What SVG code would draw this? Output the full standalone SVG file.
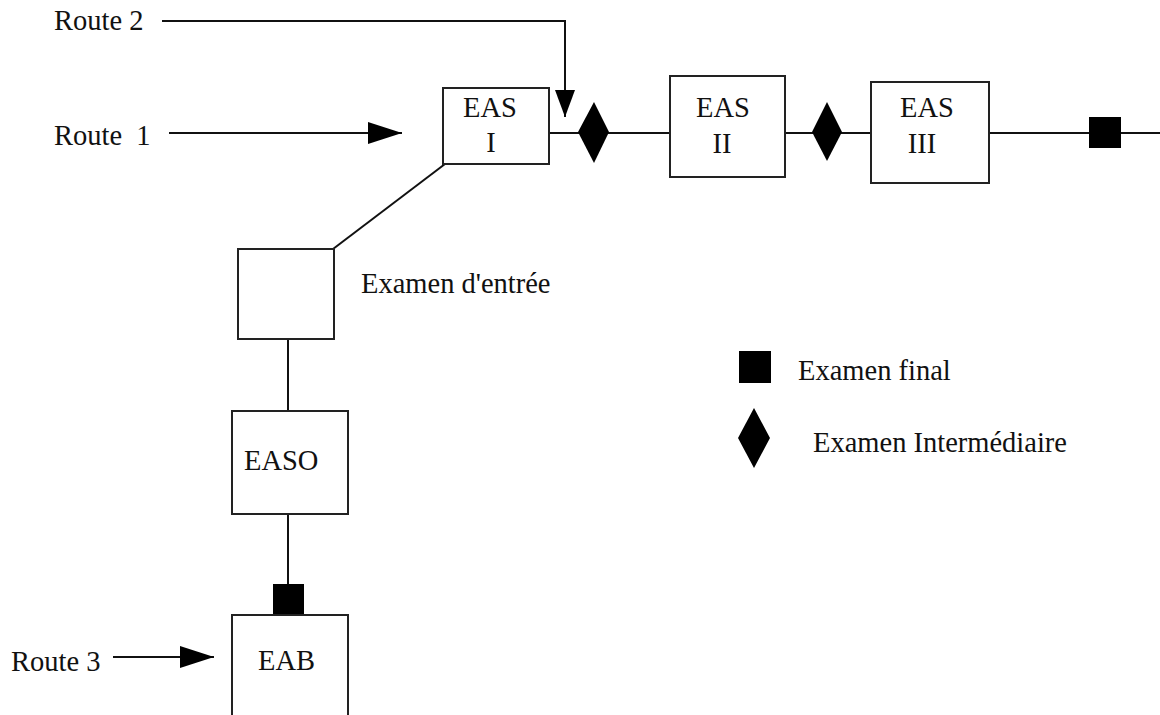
<svg xmlns="http://www.w3.org/2000/svg" width="1160" height="715" viewBox="0 0 1160 715">
<style>
text{font-family:"Liberation Serif","Times New Roman",serif;font-size:28.5px;fill:#111;white-space:pre}
.box{fill:#fff;stroke:#222;stroke-width:2}
.ln{stroke:#111;stroke-width:2;fill:none}
.mk{fill:#000}
</style>
<defs>
<marker id="arr" viewBox="0 0 34 22" refX="34" refY="11" markerWidth="34" markerHeight="22" markerUnits="userSpaceOnUse" orient="auto">
<path d="M0,0 L34,11 L0,22 Z" fill="#000"/>
</marker>
<marker id="arrv" viewBox="0 0 27 20" refX="27" refY="10" markerWidth="27" markerHeight="20" markerUnits="userSpaceOnUse" orient="auto">
<path d="M0,0 L27,10 L0,20 Z" fill="#000"/>
</marker>
</defs>
<rect width="1160" height="715" fill="#fff"/>
<g id="connectors">
<polyline class="ln" points="162,21 565,21 565,117" marker-end="url(#arrv)"/>
<line class="ln" x1="169" y1="133" x2="402" y2="133" marker-end="url(#arr)"/>
<line class="ln" x1="549" y1="133" x2="670" y2="133"/>
<line class="ln" x1="785" y1="133" x2="871" y2="133"/>
<line class="ln" x1="989" y1="133" x2="1160" y2="133"/>
<line class="ln" x1="445" y1="164" x2="333" y2="249"/>
<line class="ln" x1="288" y1="339" x2="288" y2="411"/>
<line class="ln" x1="288" y1="514" x2="288" y2="584"/>
<line class="ln" x1="113" y1="657" x2="214" y2="657" marker-end="url(#arr)"/>
</g>
<g id="route2"><text x="54" y="30">Route 2</text></g>
<g id="route1"><text x="54" y="145">Route  1</text></g>
<g id="route3"><text x="11" y="671">Route 3</text></g>
<g id="eas1">
<rect class="box" x="443" y="88" width="106" height="76"/>
<text x="490" y="117" text-anchor="middle">EAS</text>
<text x="491" y="152" text-anchor="middle">I</text>
</g>
<g id="diamond1"><polygon class="mk" points="594,102 609,132 594,163 578,132"/></g>
<g id="eas2">
<rect class="box" x="670" y="76" width="115" height="101"/>
<text x="723" y="117" text-anchor="middle">EAS</text>
<text x="722" y="153" text-anchor="middle">II</text>
</g>
<g id="diamond2"><polygon class="mk" points="827,102 842,132 827,161 812,132"/></g>
<g id="eas3">
<rect class="box" x="871" y="82" width="118" height="101"/>
<text x="927" y="117" text-anchor="middle">EAS</text>
<text x="922" y="153" text-anchor="middle">III</text>
</g>
<g id="final-main"><rect class="mk" x="1089" y="117" width="32" height="31"/></g>
<g id="examen-entree">
<rect class="box" x="238" y="249" width="96" height="90"/>
<text x="361" y="293">Examen d'entrée</text>
</g>
<g id="easo">
<rect class="box" x="232" y="411" width="116" height="103"/>
<text x="244" y="470">EASO</text>
</g>
<g id="final-eab"><rect class="mk" x="273" y="584" width="31" height="31"/></g>
<g id="eab">
<rect class="box" x="232" y="615" width="116" height="110"/>
<text x="258" y="670">EAB</text>
</g>
<g id="legend">
<rect class="mk" x="739" y="351" width="32" height="32"/>
<text x="798" y="380">Examen final</text>
<polygon class="mk" points="754,408 770,438 754,468 738,438"/>
<text x="813" y="452">Examen Intermédiaire</text>
</g>
</svg>
